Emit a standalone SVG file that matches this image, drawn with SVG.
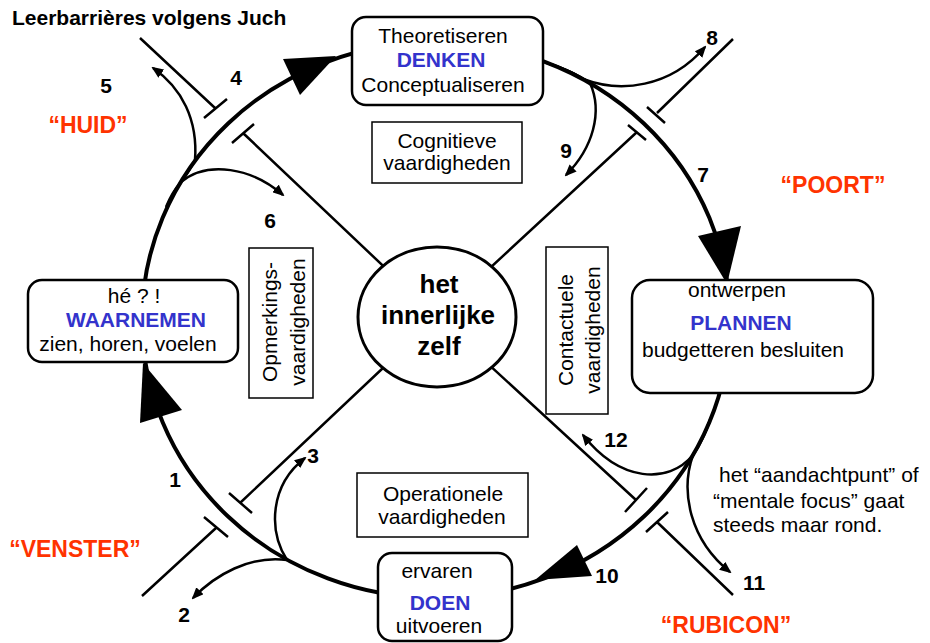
<svg xmlns="http://www.w3.org/2000/svg" width="930" height="643" viewBox="0 0 930 643">
<defs>
<marker id="ah" markerUnits="userSpaceOnUse" markerWidth="12" markerHeight="10" refX="10" refY="5" orient="auto">
<path d="M0,0 L12,5 L0,10 z" fill="#000"/>
</marker>
<style>
text{font-family:"Liberation Sans",Arial,sans-serif;fill:#000}
.t{font-size:21px}
.b{font-size:21px;font-weight:bold;fill:#3333CC}
.n{font-size:21px;font-weight:bold}
.r{font-size:23px;font-weight:bold;fill:#FF3300}
.box{fill:#fff;stroke:#000;stroke-width:2.5}
.sq{fill:#fff;stroke:#000;stroke-width:1.5}
.ln{fill:none;stroke:#000;stroke-width:2.5}
.cv{fill:none;stroke:#000;stroke-width:2.5;marker-end:url(#ah)}
.big{fill:none;stroke:#000;stroke-width:4}
.tri{fill:#000}
</style>
</defs>
<rect width="930" height="643" fill="#fff"/>
<g id="connectors">
<ellipse class="big" cx="436" cy="320" rx="294" ry="278"/>
<polygon class="tri" points="283,59 300,95 336,56"/>
<polygon class="tri" points="698,236 741,226 727,284"/>
<polygon class="tri" points="140,423 182,410 143,363"/>
<polygon class="tri" points="577,545 592,576 535,580"/>
<path class="ln" d="M140,38 L215,108 M204,118 L227,99 M232,143 L254,124 M243,133 L437,317"/>
<path class="ln" d="M733,39 L657,113 M647,107 L665,123 M628,125 L646,140 M637,132 L437,317"/>
<path class="ln" d="M142,596 L216,528 M204,517 L228,537 M229,493 L252,513 M240,503 L437,317"/>
<path class="ln" d="M733,595 L657,522 M646,532 L668,512 M625,512 L647,488 M636,500 L437,317"/>
<path class="cv" d="M184,178 Q190,170 195,160 C198,120 182,88 153,68"/>
<path class="cv" d="M166,207 Q172,192 181,182 C208,160 252,168 283,195"/>
<path class="cv" d="M547,63 Q575,72 590,83 C603,112 593,148 566,175"/>
<path class="cv" d="M547,63 Q570,70 583,79 C620,93 670,88 705,47"/>
<path class="cv" d="M287,560 C268,530 270,485 305,458"/>
<path class="cv" d="M287,560 C250,555 215,575 193,598"/>
<path class="cv" d="M710,420 Q703,440 693,455 C668,485 620,482 583,435"/>
<path class="cv" d="M710,420 Q703,440 693,455 C680,492 690,540 730,572"/>
</g>
<g id="zelf">
<ellipse cx="437" cy="317" rx="79" ry="70" fill="#fff" stroke="#000" stroke-width="3"/>
<text x="439" y="293" text-anchor="middle" style="font-size:26px;font-weight:bold">het</text>
<text x="438" y="324" text-anchor="middle" style="font-size:26px;font-weight:bold">innerlijke</text>
<text x="439" y="355" text-anchor="middle" style="font-size:26px;font-weight:bold">zelf</text>
</g>
<g id="denken">
<rect class="box" x="352" y="17" width="191" height="88" rx="14"/>
<text class="t" x="443" y="43" text-anchor="middle">Theoretiseren</text>
<text class="b" x="441" y="67" text-anchor="middle">DENKEN</text>
<text class="t" x="443" y="92" text-anchor="middle">Conceptualiseren</text>
</g>
<g id="waarnemen">
<rect class="box" x="28" y="280" width="210" height="82" rx="14"/>
<text class="t" x="134" y="303" text-anchor="middle">hé ? !</text>
<text class="b" x="136" y="327" text-anchor="middle">WAARNEMEN</text>
<text class="t" x="128" y="351" text-anchor="middle">zien, horen, voelen</text>
</g>
<g id="plannen">
<rect class="box" x="632" y="280" width="241" height="113" rx="18"/>
<text class="t" x="737" y="297" text-anchor="middle">ontwerpen</text>
<text class="b" x="741" y="330" text-anchor="middle">PLANNEN</text>
<text class="t" x="743" y="357" text-anchor="middle">budgetteren besluiten</text>
</g>
<g id="doen">
<rect class="box" x="378" y="553" width="134" height="88" rx="14"/>
<text class="t" x="437" y="578" text-anchor="middle">ervaren</text>
<text class="b" x="440" y="610" text-anchor="middle">DOEN</text>
<text class="t" x="439" y="633" text-anchor="middle">uitvoeren</text>
</g>
<g id="cognitief">
<rect class="sq" x="372" y="122" width="150" height="61"/>
<text class="t" x="447" y="148" text-anchor="middle">Cognitieve</text>
<text class="t" x="447" y="170" text-anchor="middle">vaardigheden</text>
</g>
<g id="operationeel">
<rect class="sq" x="357" y="473" width="171" height="64"/>
<text class="t" x="443" y="501" text-anchor="middle">Operationele</text>
<text class="t" x="442" y="524" text-anchor="middle">vaardigheden</text>
</g>
<g id="opmerking">
<rect class="sq" x="249" y="248" width="64" height="150"/>
<text class="t" transform="translate(277,322) rotate(-90)" text-anchor="middle">Opmerkings-</text>
<text class="t" transform="translate(305,322) rotate(-90)" text-anchor="middle">vaardigheden</text>
</g>
<g id="contactueel">
<rect class="sq" x="546" y="247" width="62" height="167"/>
<text class="t" transform="translate(573,330) rotate(-90)" text-anchor="middle">Contactuele</text>
<text class="t" transform="translate(600,330) rotate(-90)" text-anchor="middle">vaardigheden</text>
</g>
<g id="labels">
<text x="12" y="25" style="font-size:21px;font-weight:bold">Leerbarrières volgens Juch</text>
<text class="r" x="88" y="133" text-anchor="middle">“HUID”</text>
<text class="r" x="833" y="193" text-anchor="middle">“POORT”</text>
<text class="r" x="75" y="557" text-anchor="middle">“VENSTER”</text>
<text class="r" x="726" y="633" text-anchor="middle">“RUBICON”</text>
<text class="n" x="175" y="487" text-anchor="middle">1</text>
<text class="n" x="184" y="622" text-anchor="middle">2</text>
<text class="n" x="313" y="463" text-anchor="middle">3</text>
<text class="n" x="236" y="85" text-anchor="middle">4</text>
<text class="n" x="106" y="93" text-anchor="middle">5</text>
<text class="n" x="270" y="228" text-anchor="middle">6</text>
<text class="n" x="703" y="182" text-anchor="middle">7</text>
<text class="n" x="712" y="45" text-anchor="middle">8</text>
<text class="n" x="566" y="158" text-anchor="middle">9</text>
<text class="n" x="607" y="583" text-anchor="middle">10</text>
<text class="n" x="754" y="590" text-anchor="middle">11</text>
<text class="n" x="616" y="447" text-anchor="middle">12</text>
<text class="t" x="719" y="482">het “aandachtpunt” of</text>
<text class="t" x="713" y="508">“mentale focus” gaat</text>
<text class="t" x="713" y="532">steeds maar rond.</text>
</g>
</svg>
